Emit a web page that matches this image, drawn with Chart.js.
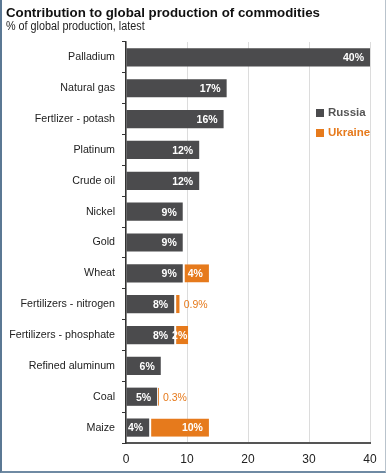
<!DOCTYPE html>
<html>
<head>
<meta charset="utf-8">
<script src="https://cdn.jsdelivr.net/npm/chart.js@4"></script>
<style>
  html, body { margin: 0; padding: 0; background: #fff; }
  body { width: 386px; height: 475px; position: relative; overflow: hidden; font-family: "Liberation Sans", Arial, sans-serif; }
  #frame { position: absolute; left: 0; top: 0; width: 383px; height: 471px; border-left: 2px solid #5b7894; border-bottom: 2px solid #6f8aa3; border-right: 1px solid #b9c3cc; }
  #title { position: absolute; left: 6px; top: 5px; font-size: 13.3px; font-weight: bold; color: #111; }
  #subtitle { position: absolute; left: 6px; top: 19px; font-size: 12px; color: #222; transform: scaleX(0.9); transform-origin: left top; white-space: nowrap; }
  #chart { position: absolute; left: 0; top: 0; }
</style>
</head>
<body>
<div id="frame"></div>
<canvas id="chart" width="386" height="475"></canvas>
<div id="title">Contribution to global production of commodities</div>
<div id="subtitle">% of global production, latest</div>
<script>
var categories = ["Palladium", "Natural gas", "Fertlizer - potash", "Platinum", "Crude oil", "Nickel", "Gold",
  "Wheat", "Fertilizers - nitrogen", "Fertilizers - phosphate", "Refined aluminum", "Coal", "Maize"];
var russia = [40, 16.5, 16, 12, 12, 9.3, 9.3, 9.3, 7.9, 7.9, 5.7, 5.1, 3.8];
var ukraine = [null, null, null, null, null, null, null, 4.3, 0.9, 2.3, null, 0.3, 9.8];
var russiaLabels = ["40%", "17%", "16%", "12%", "12%", "9%", "9%", "9%", "8%", "8%", "6%", "5%", "4%"];
var ukraineLabels = ["", "", "", "", "", "", "", "4%", "0.9%", "2%", "", "0.3%", "10%"];
var xTicks = [0, 10, 20, 30, 40];

var russiaColor = "#4b4b4d";
var ukraineColor = "#e67a1c";
var fontFamily = "'Liberation Sans', Arial, sans-serif";

// draws value labels and the legend inside the plot
var labelPlugin = {
  id: "labels",
  afterDatasetsDraw: function (chart) {
    var ctx = chart.ctx;
    ctx.save();
    ctx.textBaseline = "middle";
    var m0 = chart.getDatasetMeta(0);
    m0.data.forEach(function (bar, i) {
      ctx.font = "bold 10.5px " + fontFamily;
      ctx.fillStyle = "#fff";
      ctx.textAlign = "right";
      ctx.fillText(russiaLabels[i], bar.x - 6, bar.y + 1);
    });
    var m1 = chart.getDatasetMeta(1);
    m1.data.forEach(function (bar, i) {
      if (ukraine[i] == null) return;
      if (ukraine[i] >= 1) {
        ctx.font = "bold 10.5px " + fontFamily;
        ctx.fillStyle = "#fff";
        ctx.textAlign = "right";
        var w = ctx.measureText(ukraineLabels[i]).width;
        var pad = (bar.x - bar.base) < w + 10 ? 1 : 6;
        ctx.fillText(ukraineLabels[i], bar.x - pad, bar.y + 1);
      } else {
        ctx.font = "10.5px " + fontFamily;
        ctx.fillStyle = ukraineColor;
        ctx.textAlign = "left";
        ctx.fillText(ukraineLabels[i], bar.x + 4, bar.y + 1);
      }
    });
    // legend
    var lx = 316, ly = 113;
    ctx.font = "bold 11.5px " + fontFamily;
    ctx.textAlign = "left";
    ctx.fillStyle = russiaColor;
    ctx.fillRect(lx, ly - 4, 8, 8);
    ctx.fillStyle = "#555";
    ctx.fillText("Russia", lx + 12, ly);
    ctx.fillStyle = ukraineColor;
    ctx.fillRect(lx, ly + 16, 8, 8);
    ctx.fillText("Ukraine", lx + 12, ly + 20);
    ctx.restore();
  }
};

var ctx = document.getElementById("chart").getContext("2d");
new Chart(ctx, {
  type: "bar",
  data: {
    labels: categories,
    datasets: [{
      label: "Russia",
      data: russia,
      backgroundColor: russiaColor,
      barPercentage: 0.59,
      categoryPercentage: 1
    }, {
      label: "Ukraine",
      data: ukraine,
      backgroundColor: ukraineColor,
      borderColor: "#ffffff",
      borderWidth: { left: 2, right: 0, top: 0, bottom: 0 },
      borderSkipped: false,
      barPercentage: 0.59,
      categoryPercentage: 1
    }]
  },
  options: {
    indexAxis: "y",
    responsive: false,
    animation: false,
    layout: { padding: { top: 42, right: 16, left: 0, bottom: 0 } },
    plugins: {
      legend: { display: false },
      tooltip: { enabled: false }
    },
    scales: {
      x: {
        stacked: true,
        min: 0,
        max: 40,
        afterBuildTicks: function (scale) {
          scale.ticks = xTicks.map(function (v) { return { value: v }; });
        },
        afterFit: function (scale) { scale.height = 32; },
        grid: { color: "#dcdcdc", drawTicks: false, lineWidth: 1 },
        border: { color: "#555", width: 2 },
        ticks: { color: "#222", padding: 9, font: { size: 12, family: fontFamily } }
      },
      y: {
        stacked: true,
        afterFit: function (scale) { scale.width = 126; },
        grid: { offset: true, drawOnChartArea: false, drawTicks: true, tickLength: 4, color: "#333" },
        border: { color: "#333", width: 1.5 },
        ticks: { color: "#222", padding: 7, font: { size: 10.7, family: fontFamily } }
      }
    }
  },
  plugins: [labelPlugin]
});
</script>
</body>
</html>
